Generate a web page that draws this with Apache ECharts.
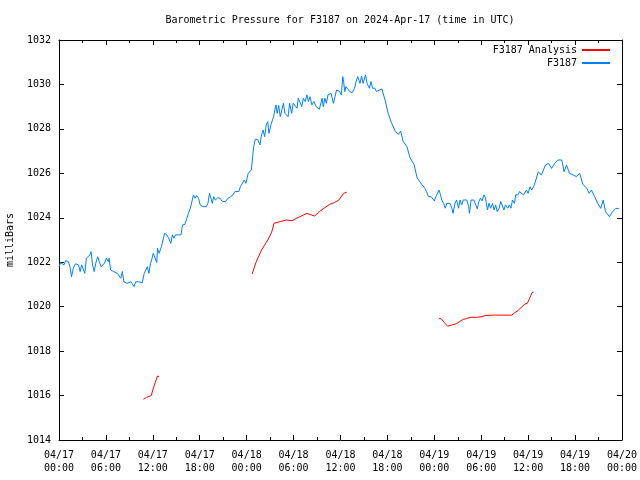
<!DOCTYPE html>
<html>
<head>
<meta charset="utf-8">
<script src="https://cdn.jsdelivr.net/npm/echarts@6/dist/echarts.min.js"></script>
<style>html,body{margin:0;padding:0;background:#fff}#c{width:640px;height:480px}</style>
</head>
<body>
<div id="c"></div>
<script>
// hours since 2024-04-17 00:00 UTC
var blueHours = [0.0,0.2,0.43,0.64,0.85,1.2,1.4,1.6,1.83,2.1,2.5,2.7,2.9,3.1,3.3,3.5,3.75,3.96,4.1,4.3,4.5,4.7,4.95,5.15,5.4,5.6,5.8,6.05,6.3,6.4,6.6,6.8,7.0,7.25,7.45,7.67,7.9,8.1,8.3,8.5,8.7,8.95,9.2,9.4,9.6,9.8,10.0,10.2,10.45,10.65,10.9,11.1,11.3,11.5,11.7,11.85,12.05,12.3,12.5,12.6,12.8,13.0,13.1,13.25,13.5,13.8,14.0,14.3,14.5,14.7,14.9,15.25,15.6,15.8,16.0,16.1,16.35,16.55,16.8,17.0,17.2,17.4,17.6,17.85,18.05,18.4,18.85,19.05,19.25,19.5,19.6,19.8,20.0,20.3,20.6,20.9,21.3,21.6,21.95,22.25,22.5,22.7,23.0,23.2,23.45,23.7,23.9,24.2,24.6,24.9,25.1,25.4,25.7,25.9,26.1,26.3,26.5,26.7,26.85,27.1,27.3,27.45,27.6,27.75,27.9,28.1,28.3,28.5,28.7,28.9,29.1,29.3,29.5,29.75,29.95,30.2,30.45,30.6,30.85,31.05,31.25,31.5,31.7,31.9,32.1,32.35,32.6,32.9,33.3,33.5,33.65,33.8,34.0,34.2,34.4,34.6,34.8,35.1,35.3,35.5,35.7,35.9,36.1,36.3,36.4,36.55,36.7,36.9,37.2,37.5,37.8,38.0,38.2,38.5,38.7,38.9,39.2,39.4,39.7,39.9,40.1,40.4,40.6,40.8,41.3,41.7,42.1,42.5,43.0,43.4,43.7,44.0,44.5,44.9,45.4,45.8,46.4,46.8,47.0,47.25,47.6,47.8,48.0,48.2,48.4,48.6,48.8,48.95,49.2,49.4,49.6,49.8,50.0,50.25,50.4,50.65,50.85,51.1,51.3,51.5,51.7,51.95,52.15,52.4,52.5,52.7,53.05,53.3,53.5,53.7,53.9,54.1,54.35,54.55,54.8,55.0,55.2,55.45,55.65,55.85,56.05,56.3,56.5,56.7,56.9,57.1,57.4,57.6,57.8,58.0,58.25,58.4,58.7,58.9,59.15,59.4,59.6,59.8,60.0,60.25,60.45,60.7,60.9,61.3,61.7,62.2,62.6,63.0,63.4,63.8,64.3,64.6,64.9,65.3,65.8,66.2,66.6,67.0,67.5,67.8,68.1,68.5,68.9,69.3,69.6,69.9,70.4,70.8,71.2,71.6];
var blueValues = [1021.8,1021.98,1022.07,1021.88,1022.07,1022.03,1021.8,1021.35,1021.73,1021.93,1021.88,1021.58,1021.88,1021.85,1021.5,1022.18,1022.1,1022.33,1022.48,1021.88,1021.58,1021.95,1022.25,1022.03,1021.8,1021.8,1021.95,1022.18,1022.03,1022.18,1021.65,1021.73,1021.58,1021.65,1021.5,1021.5,1021.28,1021.58,1021.12,1021.2,1021.05,1021.12,1021.12,1021.05,1020.9,1021.12,1021.05,1021.12,1021.05,1021.08,1021.5,1021.58,1021.8,1021.5,1021.95,1022.1,1022.4,1022.48,1021.99,1022.63,1022.4,1022.33,1022.7,1022.78,1023.3,1023.23,1023.1,1022.85,1023.23,1023.08,1023.23,1023.23,1023.23,1023.68,1023.6,1023.7,1023.98,1024.2,1024.43,1024.73,1025.03,1024.88,1025.0,1024.88,1024.58,1024.5,1024.5,1024.65,1025.1,1024.8,1024.65,1024.95,1024.8,1024.9,1024.88,1024.73,1024.73,1024.88,1024.95,1025.03,1025.18,1025.1,1025.18,1025.4,1025.33,1025.7,1025.55,1026.0,1026.15,1027.2,1027.53,1027.53,1027.28,1027.73,1027.95,1027.65,1028.18,1028.32,1027.8,1028.18,1028.25,1028.55,1028.85,1029.08,1028.7,1029.05,1028.55,1028.85,1029.15,1028.7,1028.77,1028.55,1029.15,1028.7,1029.15,1029.23,1028.93,1029.38,1029.3,1029.0,1029.38,1029.23,1029.53,1029.23,1029.45,1029.08,1029.23,1029.0,1028.88,1028.85,1029.38,1029.0,1029.38,1029.15,1029.53,1029.45,1029.6,1029.15,1029.45,1029.75,1029.83,1029.68,1029.53,1030.35,1030.13,1029.68,1029.9,1029.83,1029.68,1029.63,1029.83,1030.13,1030.35,1030.05,1030.38,1030.05,1030.43,1030.05,1029.83,1030.13,1029.83,1029.83,1029.68,1029.68,1029.8,1029.3,1028.7,1028.3,1027.9,1027.75,1027.9,1027.45,1027.2,1026.7,1026.4,1025.8,1025.5,1025.33,1025.18,1024.95,1024.95,1024.88,1024.76,1024.95,1025.1,1025.25,1025.03,1024.8,1024.65,1024.43,1024.65,1024.73,1024.65,1024.43,1024.2,1024.65,1024.8,1024.43,1024.8,1024.58,1024.8,1024.8,1024.8,1024.5,1024.2,1024.8,1024.8,1024.8,1024.4,1024.73,1024.88,1024.76,1025.03,1024.9,1024.35,1024.65,1024.43,1024.65,1024.35,1024.58,1024.28,1024.43,1024.73,1024.8,1024.35,1024.58,1024.43,1024.58,1024.43,1024.8,1024.65,1025.03,1025.03,1025.18,1025.25,1025.03,1025.06,1025.25,1025.1,1025.4,1025.25,1025.4,1025.6,1026.07,1025.92,1026.37,1026.45,1026.22,1026.45,1026.6,1026.6,1026.07,1026.37,1026.0,1025.92,1025.85,1026.0,1025.5,1025.33,1025.1,1025.25,1024.95,1024.65,1024.42,1024.8,1024.27,1024.05,1024.27,1024.42,1024.42];
// null = gap between analysis segments
var redHours = [10.8,11.2,11.8,12.0,12.3,12.6,12.8,18.0,24.7,25.2,25.9,26.7,27.2,27.5,28.3,29.1,29.8,30.4,31.0,31.7,32.3,32.7,33.3,33.9,34.6,35.2,35.8,36.4,36.8,42.0,48.6,48.9,49.3,49.7,50.2,50.8,51.3,51.7,52.1,52.6,53.4,54.1,54.5,55.6,56.8,57.9,58.3,58.7,59.2,59.6,59.9,60.2,60.5,60.7];
var redValues = [1015.83,1015.92,1016.0,1016.25,1016.58,1016.88,1016.85,null,1021.47,1022.0,1022.55,1023.0,1023.35,1023.75,1023.83,1023.9,1023.87,1023.98,1024.08,1024.2,1024.12,1024.08,1024.28,1024.43,1024.6,1024.68,1024.8,1025.1,1025.15,null,1019.48,1019.45,1019.28,1019.12,1019.17,1019.23,1019.34,1019.43,1019.46,1019.52,1019.52,1019.55,1019.6,1019.62,1019.62,1019.62,1019.73,1019.82,1020.0,1020.12,1020.15,1020.38,1020.63,1020.66];
var titleText = 'Barometric Pressure for F3187 on 2024-Apr-17 (time in UTC)';

function pad(n){return (n<10?'0':'')+n;}
function xLabel(v){
  var d = 17 + Math.floor(v/24);
  var h = Math.round(v - Math.floor(v/24)*24);
  return '04/' + pad(d) + '\n' + pad(h) + ':00';
}
var FONT = 'DejaVu Sans Mono';
var blueData = blueHours.map(function(h,i){return [h, blueValues[i]];});
var redData = redHours.map(function(h,i){return [h, redValues[i]];});

var chart = echarts.init(document.getElementById('c'), null, {renderer:'canvas'});
var xCommon = {
  type:'value', min:0, max:72, interval:6,
  axisLine:{show:true, onZero:false, lineStyle:{color:'#000', width:1}},
  axisTick:{show:true, inside:true, length:5, lineStyle:{color:'#000'}},
  minorTick:{show:true, splitNumber:2, length:3, lineStyle:{color:'#000'}},
  splitLine:{show:false}
};
var yCommon = {
  type:'value', min:1014, max:1032, interval:2,
  axisLine:{show:true, onZero:false, lineStyle:{color:'#000', width:1}},
  axisTick:{show:true, inside:true, length:5, lineStyle:{color:'#000'}},
  splitLine:{show:false}
};
chart.setOption({
  animation:false,
  backgroundColor:'#fff',
  grid:{left:59, right:18, top:40, bottom:40},
  graphic:[
    {type:'text', x:340, y:20, style:{text:titleText, font:'10px "DejaVu Sans Mono"', fill:'#000', textAlign:'center', textVerticalAlign:'middle'}},
    {type:'text', x:10, y:240, rotation:Math.PI/2, style:{text:'milliBars', font:'10px "DejaVu Sans Mono"', fill:'#000', textAlign:'center', textVerticalAlign:'middle'}}
  ],
  legend:{
    orient:'vertical', right:25, top:40, align:'right', itemGap:3,
    itemWidth:28, itemHeight:2, icon:'rect',
    textStyle:{fontFamily:FONT, fontSize:10, color:'#000'},
    data:['F3187 Analysis','F3187']
  },
  xAxis:[
    Object.assign({}, xCommon, {position:'bottom',
      axisLabel:{show:true, margin:9, fontFamily:FONT, fontSize:10, color:'#000', lineHeight:13, formatter:xLabel, showMinLabel:true, showMaxLabel:true}}),
    Object.assign({}, xCommon, {position:'top', axisLabel:{show:false}})
  ],
  yAxis:[
    Object.assign({}, yCommon, {position:'left',
      axisLabel:{show:true, margin:8, fontFamily:FONT, fontSize:10, color:'#000', formatter:function(v){return String(v);}}}),
    Object.assign({}, yCommon, {position:'right', axisLabel:{show:false}})
  ],
  series:[
    {name:'F3187 Analysis', type:'line', data:redData, xAxisIndex:0, yAxisIndex:0,
     showSymbol:false, symbol:'none', connectNulls:false, color:'#ff0000',
     lineStyle:{color:'#ff0000', width:1}},
    {name:'F3187', type:'line', data:blueData, xAxisIndex:0, yAxisIndex:0,
     showSymbol:false, symbol:'none', color:'#0080ff',
     lineStyle:{color:'#0080ff', width:1}}
  ]
});
</script>
</body>
</html>
